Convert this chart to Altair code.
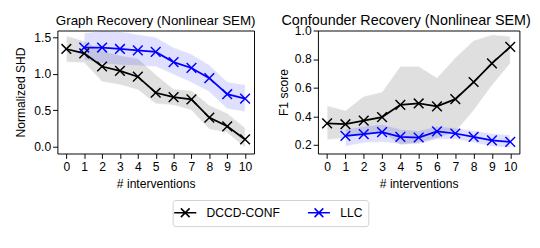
import altair as alt
import pandas as pd

interventions = list(range(11))
llc_x = list(range(1, 11))

# Graph Recovery (Normalized SHD)
shd_dccd = [1.34, 1.28, 1.10, 1.04, 0.96, 0.74, 0.68, 0.65, 0.40, 0.28, 0.10]
shd_dccd_hi = [1.52, 1.45, 1.32, 1.25, 1.21, 0.99, 0.79, 0.77, 0.57, 0.46, 0.26]
shd_dccd_lo = [1.16, 1.15, 0.89, 0.85, 0.78, 0.59, 0.57, 0.50, 0.24, 0.19, -0.01]
shd_llc = [1.36, 1.36, 1.34, 1.32, 1.30, 1.16, 1.08, 0.94, 0.72, 0.66]
shd_llc_hi = [1.56, 1.59, 1.58, 1.54, 1.50, 1.36, 1.27, 1.12, 0.89, 0.85]
shd_llc_lo = [1.19, 1.14, 1.12, 1.11, 1.10, 0.99, 0.88, 0.75, 0.52, 0.48]

# Confounder Recovery (F1 score)
f1_dccd = [0.351, 0.345, 0.37, 0.395, 0.48, 0.49, 0.47, 0.52, 0.64, 0.77, 0.886]
f1_dccd_hi = [0.475, 0.44, 0.54, 0.57, 0.75, 0.75, 0.67, 0.81, 0.93, 0.97, 0.96]
f1_dccd_lo = [0.237, 0.247, 0.28, 0.29, 0.20, 0.215, 0.247, 0.29, 0.44, 0.615, 0.77]
f1_llc = [0.263, 0.276, 0.29, 0.256, 0.252, 0.295, 0.28, 0.256, 0.232, 0.222]
f1_llc_hi = [0.31, 0.33, 0.345, 0.31, 0.30, 0.33, 0.32, 0.30, 0.28, 0.27]
f1_llc_lo = [0.19, 0.215, 0.22, 0.205, 0.205, 0.24, 0.24, 0.215, 0.19, 0.18]

methods = ["DCCD-CONF", "LLC"]
colors = ["black", "blue"]
titles = ["Graph Recovery (Nonlinear SEM)", "Confounder Recovery (Nonlinear SEM)"]
FONT = "Liberation Sans"


def make_df(xd, yd, hd, ld, xl, yl, hl, ll):
    rows = []
    for x, y, h, l in zip(xd, yd, hd, ld):
        rows.append({"x": x, "y": y, "hi": h, "lo": l, "method": methods[0]})
    for x, y, h, l in zip(xl, yl, hl, ll):
        rows.append({"x": x, "y": y, "hi": h, "lo": l, "method": methods[1]})
    return pd.DataFrame(rows)


color_scale = alt.Scale(domain=methods, range=colors)
xpath = "M-1,-1L1,1M-1,1L1,-1"
legend_path = "M-1.9,0L1.9,0M-0.75,-0.75L0.75,0.75M-0.75,0.75L0.75,-0.75"

PLOT_H = 127

legend = alt.Legend(
    title=None,
    orient="none",
    legendX=119,
    legendY=175,
    direction="horizontal",
    symbolType=legend_path,
    symbolSize=144,
    symbolStrokeWidth=1.6,
    symbolFillColor="transparent",
    labelFont=FONT,
    labelFontSize=12.5,
    labelColor="black",
    labelOffset=15,
    columnPadding=25,
    padding=6,
    strokeColor="#d0d0d0",
    fillColor="white",
    cornerRadius=3,
)


def panel(df, title, ytitle, ydomain, yvalues, w, h, tsize, tx, ytp):
    base = alt.Chart(df)
    x = alt.X(
        "x:Q",
        scale=alt.Scale(domain=[-0.5, 10.5], nice=False, zero=False),
        axis=alt.Axis(values=interventions, title="# interventions", format="d",
                      labelPadding=3, titlePadding=5, labelFlush=False,
                      labelOverlap=False),
    )
    yaxis = alt.Axis(values=yvalues, title=ytitle, format=".1f", labelPadding=2,
                     titlePadding=ytp, labelOverlap=False, labelFlush=False)
    yscale = alt.Scale(domain=ydomain, nice=False, zero=False)
    y = alt.Y("y:Q", scale=yscale, axis=yaxis)
    bands = []
    for m, c in zip(methods, colors):
        bands.append(
            base.transform_filter(alt.datum.method == m)
            .mark_area(color=c, opacity=0.12, stroke="white", strokeWidth=0.8,
                       strokeOpacity=0.8)
            .encode(x=x, y=alt.Y("lo:Q", scale=yscale, axis=yaxis), y2="hi:Q")
        )
    line = base.mark_line(
        strokeWidth=1.8,
        point=alt.OverlayMarkDef(shape=xpath, size=100, strokeWidth=1.5,
                                 filled=False, opacity=1),
    ).encode(
        x=x,
        y=y,
        color=alt.Color("method:N", scale=color_scale, legend=legend),
    )
    ttl = (
        alt.Chart(pd.DataFrame({"t": [title]}))
        .mark_text(font=FONT, fontSize=tsize, align="center", baseline="alphabetic",
                   color="black")
        .encode(text="t:N", x=alt.value(tx), y=alt.value(-6))
    )
    return alt.layer(*bands, line, ttl).properties(width=w, height=h)


df_shd = make_df(interventions, shd_dccd, shd_dccd_hi, shd_dccd_lo,
                 llc_x, shd_llc, shd_llc_hi, shd_llc_lo)
df_f1 = make_df(interventions, f1_dccd, f1_dccd_hi, f1_dccd_lo,
                llc_x, f1_llc, f1_llc_hi, f1_llc_lo)

left = panel(df_shd, titles[0], "Normalized SHD",
             [-0.093, 1.593], [0.0, 0.5, 1.0, 1.5], 203, PLOT_H, 13.8, 101.5, 6.4)
right = panel(df_f1, titles[1], "F1 score",
              [0.14, 1.0], [0.2, 0.4, 0.6, 0.8, 1.0], 208, PLOT_H, 14.8, 91, 4)

chart = (
    alt.hconcat(left, right, spacing=21)
    .properties(padding={"left": 6, "top": 0, "right": 0, "bottom": 40})
    .configure(font=FONT)
    .configure_view(stroke="black", strokeWidth=1)
    .configure_axis(
        grid=False,
        domain=False,
        tickColor="black",
        tickSize=5,
        tickWidth=1,
        labelFont=FONT,
        labelFontSize=12.5,
        labelColor="black",
        titleFont=FONT,
        titleFontSize=12.5,
        titleFontWeight="normal",
        titleColor="black",
    )
)

chart.save("out.html", embed_options={"renderer": "svg", "actions": False})
